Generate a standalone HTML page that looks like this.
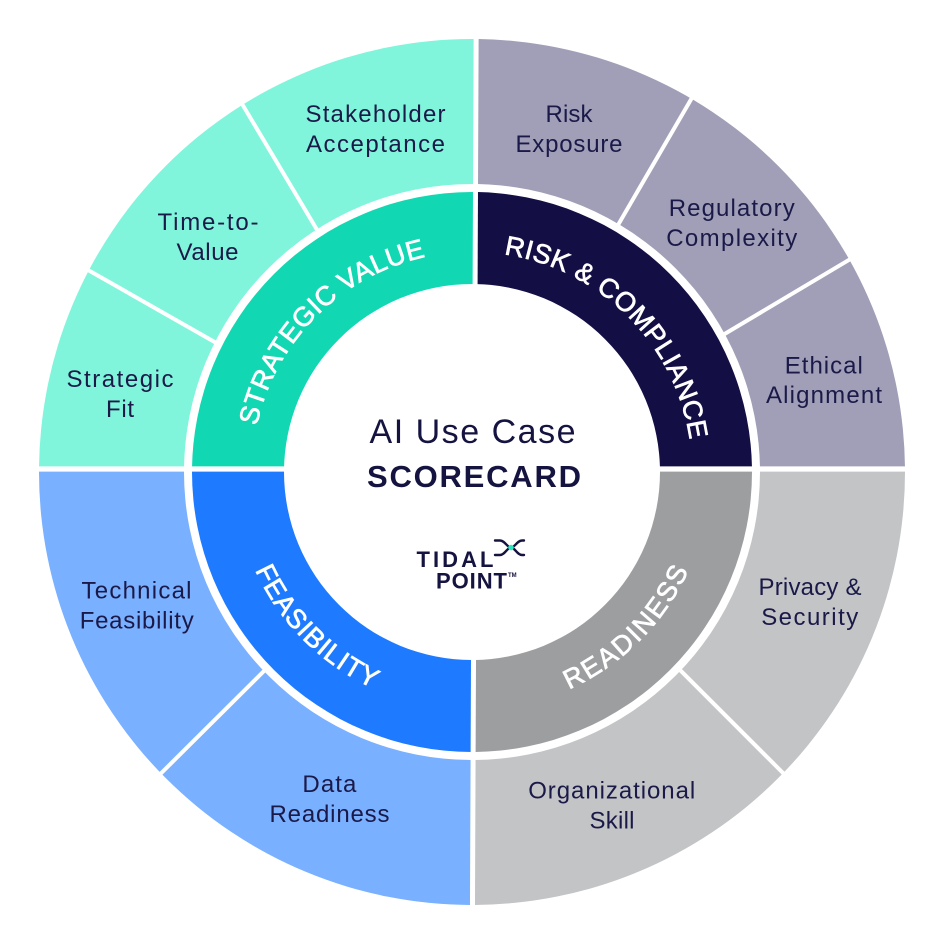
<!DOCTYPE html>
<html>
<head>
<meta charset="utf-8">
<style>
html,body{margin:0;padding:0;background:#ffffff;}
svg{display:block;}
.lbl{font-family:"Liberation Sans",Arial,sans-serif;font-size:24px;fill:#1b1948;text-anchor:middle;}
.ring{font-family:"Liberation Sans",Arial,sans-serif;font-size:27px;fill:#ffffff;stroke:#ffffff;stroke-width:0.7;}
</style>
</head>
<body>
<svg width="945" height="945" viewBox="0 0 945 945" xmlns="http://www.w3.org/2000/svg">
  <defs>
    <clipPath id="cL"><polygon points="0,0 473.8,0 469.8,945 0,945"/></clipPath>
    <clipPath id="cR"><polygon points="478.8,0 945,0 945,945 474.8,945"/></clipPath>
    <clipPath id="cT"><rect x="0" y="0" width="945" height="466.4"/></clipPath>
    <clipPath id="cB"><rect x="0" y="471.6" width="945" height="500"/></clipPath>
    <path id="outerAnn" d="M 39 472 A 433 433 0 1 1 905 472 A 433 433 0 1 1 39 472 Z M 184 472 A 288 288 0 1 0 760 472 A 288 288 0 1 0 184 472 Z" fill-rule="evenodd"/>
    <path id="ringAnn" d="M 192 472 A 280 280 0 1 1 752 472 A 280 280 0 1 1 192 472 Z M 284 472 A 188 188 0 1 0 660 472 A 188 188 0 1 0 284 472 Z" fill-rule="evenodd"/>
    <path id="pSV" d="M 252 472 A 220 220 0 0 1 472 252"/>
    <path id="pRC" d="M 472 252 A 220 220 0 0 1 692 472"/>
    <path id="pFE" d="M 234 472 A 238 238 0 0 0 472 710"/>
    <path id="pRE" d="M 472 710 A 238 238 0 0 0 710 472"/>
  </defs>

  <!-- top-left -->
  <g clip-path="url(#cL)"><g clip-path="url(#cT)">
    <use href="#outerAnn" fill="#80f5dc" fill-rule="evenodd"/>
    <use href="#ringAnn" fill="#12d7b3" fill-rule="evenodd"/>
  </g></g>
  <!-- top-right -->
  <g clip-path="url(#cR)"><g clip-path="url(#cT)">
    <use href="#outerAnn" fill="#a09fb7" fill-rule="evenodd"/>
    <use href="#ringAnn" fill="#130f45" fill-rule="evenodd"/>
  </g></g>
  <!-- bottom-right -->
  <g clip-path="url(#cR)"><g clip-path="url(#cB)">
    <use href="#outerAnn" fill="#c3c4c6" fill-rule="evenodd"/>
    <use href="#ringAnn" fill="#9d9ea0" fill-rule="evenodd"/>
  </g></g>
  <!-- bottom-left -->
  <g clip-path="url(#cL)"><g clip-path="url(#cB)">
    <use href="#outerAnn" fill="#79b0ff" fill-rule="evenodd"/>
    <use href="#ringAnn" fill="#1e7bff" fill-rule="evenodd"/>
  </g></g>

  <!-- dividers -->
  <g stroke="#ffffff" stroke-width="4" stroke-linecap="butt">
    <line x1="80.5" y1="265.7" x2="219" y2="344.5"/>
    <line x1="239.2" y1="99.1" x2="319.3" y2="233.6"/>
    <line x1="695.7" y1="91.4" x2="616.5" y2="227.6"/>
    <line x1="856.9" y1="255.2" x2="721.4" y2="335.9"/>
    <line x1="155.3" y1="779" x2="266.8" y2="668.2"/>
    <line x1="789" y1="779" x2="678.2" y2="668.2"/>
  </g>

  <text class="ring" letter-spacing="0.4"><textPath href="#pSV" startOffset="50%" text-anchor="middle">STRATEGIC VALUE</textPath></text>
  <text class="ring" letter-spacing="0.4"><textPath href="#pRC" startOffset="50%" text-anchor="middle">RISK &amp; COMPLIANCE</textPath></text>
  <text class="ring" letter-spacing="1"><textPath href="#pFE" startOffset="50%" text-anchor="middle">FEASIBILITY</textPath></text>
  <text class="ring" letter-spacing="2"><textPath href="#pRE" startOffset="50%" text-anchor="middle">READINESS</textPath></text>

  <!-- outer labels -->
  <text class="lbl" x="375.5" y="122" textLength="140" lengthAdjust="spacing">Stakeholder</text>
  <text class="lbl" x="375.5" y="152" textLength="139" lengthAdjust="spacing">Acceptance</text>

  <text class="lbl" x="208" y="230" textLength="101" lengthAdjust="spacing">Time-to-</text>
  <text class="lbl" x="207.5" y="260" textLength="62" lengthAdjust="spacing">Value</text>

  <text class="lbl" x="120" y="387" textLength="107" lengthAdjust="spacing">Strategic</text>
  <text class="lbl" x="120" y="417" textLength="28" lengthAdjust="spacing">Fit</text>

  <text class="lbl" x="569" y="122" textLength="47" lengthAdjust="spacing">Risk</text>
  <text class="lbl" x="569" y="152" textLength="107" lengthAdjust="spacing">Exposure</text>

  <text class="lbl" x="731.7" y="216" textLength="126" lengthAdjust="spacing">Regulatory</text>
  <text class="lbl" x="731.7" y="246" textLength="131" lengthAdjust="spacing">Complexity</text>

  <text class="lbl" x="823.8" y="373.5" textLength="78" lengthAdjust="spacing">Ethical</text>
  <text class="lbl" x="824" y="403" textLength="116" lengthAdjust="spacing">Alignment</text>

  <text class="lbl" x="136.5" y="598.5" textLength="110" lengthAdjust="spacing">Technical</text>
  <text class="lbl" x="136.7" y="628.5" textLength="114" lengthAdjust="spacing">Feasibility</text>

  <text class="lbl" x="329.4" y="792" textLength="54" lengthAdjust="spacing">Data</text>
  <text class="lbl" x="329.5" y="822" textLength="120" lengthAdjust="spacing">Readiness</text>

  <text class="lbl" x="810" y="595" textLength="103" lengthAdjust="spacing">Privacy &amp;</text>
  <text class="lbl" x="809.7" y="625" textLength="97" lengthAdjust="spacing">Security</text>

  <text class="lbl" x="611.7" y="798.5" textLength="167" lengthAdjust="spacing">Organizational</text>
  <text class="lbl" x="612" y="828.5" textLength="45" lengthAdjust="spacing">Skill</text>

  <!-- center title -->
  <text x="472.5" y="443" text-anchor="middle" font-family="Liberation Sans, Arial, sans-serif" font-size="34" fill="#15133f" textLength="206" lengthAdjust="spacing">AI  Use Case</text>
  <text x="474" y="487" text-anchor="middle" font-family="Liberation Sans, Arial, sans-serif" font-size="31" font-weight="bold" fill="#15133f" textLength="214" lengthAdjust="spacing">SCORECARD</text>

  <!-- logo -->
  <text x="416.5" y="567" font-family="Liberation Sans, Arial, sans-serif" font-size="22" font-weight="bold" fill="#15133f" textLength="77" lengthAdjust="spacing">TIDAL</text>
  <text x="436" y="588.5" font-family="Liberation Sans, Arial, sans-serif" font-size="22" font-weight="bold" fill="#15133f" textLength="71" lengthAdjust="spacing">POINT</text>
  <text x="508" y="577" font-family="Liberation Sans, Arial, sans-serif" font-size="6" font-weight="bold" fill="#15133f">TM</text>
  <g fill="none" stroke="#15133f" stroke-width="2.4" stroke-linecap="round">
    <path d="M 495 540.5 L 500 540.5 C 505 540.5 507 547.5 511 547.5 C 515 547.5 517 540.5 522 540.5 L 524 540.5"/>
    <path d="M 495 555 L 500 555 C 505 555 507 547.5 511 547.5 C 515 547.5 517 555 522 555 L 524 555"/>
  </g>
  <circle cx="511" cy="547.5" r="2.8" fill="#2ee6c0"/>
</svg>
</body>
</html>
